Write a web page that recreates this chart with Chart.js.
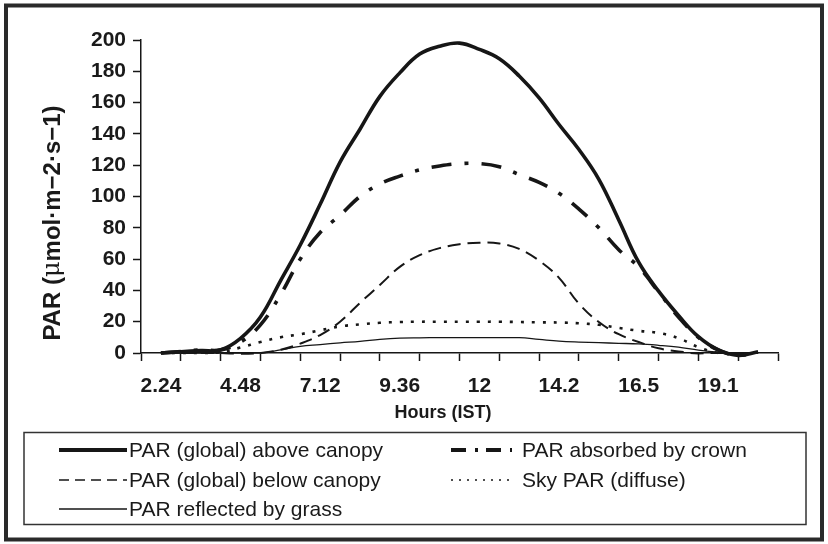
<!DOCTYPE html>
<html><head><meta charset="utf-8">
<script src="https://cdn.jsdelivr.net/npm/chart.js@4"></script>
<style>html,body{margin:0;padding:0;background:#fff}</style>
</head><body>
<canvas id="c" width="828" height="544"></canvas>
<script>
// Category labels (one slot per half-interval; only every 4th slot is labelled)
const hourLabels = ['', '2.24', '', '', '', '4.48', '', '', '', '7.12', '', '', '', '9.36', '', '', '',
  '12', '', '', '', '14.2', '', '', '', '16.5', '', '', '', '19.1', '', '', ''];
const yTicks = [0, 20, 40, 60, 80, 100, 120, 140, 160, 180, 200];

// Series values (31 readings, slots 1..31)
const aboveCanopy = [0, 0.8, 1.5, 2, 9.4, 23, 46, 69, 95, 122, 143, 164, 179, 191, 196, 198, 194, 188, 177, 163, 146, 130, 111, 85, 58, 39.5, 24, 10.4, 2, -1.5, 0.8];
const absorbedCrown = [0, 1, 2, 2, 7, 18, 37, 60, 77, 88, 100, 108, 113, 117, 119.5, 121, 121, 119, 114, 109, 102, 92, 80, 66, 55, 39, 23, 10, 2, -1.5, 0.8];
const belowCanopy = [0, 0, 0, 0, -0.5, 0, 2, 6, 11.5, 20, 32, 43.5, 55, 62.5, 67, 69.5, 70.5, 70, 66.5, 59, 48, 31.5, 19.8, 12, 7, 3, 1, -0.3, 0, -0.3, 0];
const skyDiffuse = [0, 0, 0, 0.5, 3.5, 7, 10, 12, 14.5, 17, 18.3, 19.3, 19.8, 20, 20, 20, 20, 20, 19.8, 19.6, 19.5, 19, 18, 16, 14.2, 12.8, 9.5, 3.7, 0, -0.5, 0];
const reflectedGrass = [0, 0, 0, 0, 0, 0, 2, 4.3, 5.4, 6.5, 7.4, 8.7, 9.5, 9.7, 9.8, 9.8, 9.8, 9.8, 9.8, 8.7, 7.6, 7, 6.6, 6.2, 5.8, 4.9, 3.7, 1.8, 0.5, 0, 0];

const seriesNames = ['PAR (global) above canopy', 'PAR absorbed by crown', 'PAR (global) below canopy', 'Sky PAR (diffuse)', 'PAR reflected by grass'];

const pad = a => [null, ...a, null];
const INK = '#161616';

const datasets = [
  {label: seriesNames[0], data: pad(aboveCanopy), borderWidth: 3.6, borderDash: []},
  {label: seriesNames[1], data: pad(absorbedCrown), borderWidth: 3.6, borderDash: [20, 13, 4, 13]},
  {label: seriesNames[2], data: pad(belowCanopy), borderWidth: 2, borderDash: [13, 7]},
  {label: seriesNames[3], data: pad(skyDiffuse), borderWidth: 2.6, borderDash: [3, 8]},
  {label: seriesNames[4], data: pad(reflectedGrass), borderWidth: 1.3, borderDash: []}
].map(d => Object.assign({
  borderColor: INK, backgroundColor: INK, fill: false, pointRadius: 0,
  tension: 0.4, clip: 10, borderCapStyle: 'butt', borderJoinStyle: 'round'
}, d));

const legendStyles = [
  {w: 4.2, dash: []},
  {w: 4.2, dash: [15, 9, 3, 8, 15, 9, 3, 100]},
  {w: 1.5, dash: [10, 6]},
  {w: 1.5, dash: [2, 6]},
  {w: 1.3, dash: []}
];

const decor = {
  id: 'decor',
  beforeDraw(chart) {
    const c = chart.ctx;
    c.save();
    c.fillStyle = '#fff';
    c.fillRect(0, 0, chart.width, chart.height);
    c.restore();
  },
  afterDraw(chart) {
    const c = chart.ctx;
    c.save();
    // outer frame
    c.strokeStyle = '#2a2a2a';
    c.lineWidth = 4;
    c.strokeRect(6, 5.5, 816, 534);

    // y-axis title
    c.fillStyle = '#1a1a1a';
    c.textBaseline = 'middle';
    const parts = [
      ['bold 24px "Liberation Sans", Arial, sans-serif', 'PAR ('],
      ['24px "DejaVu Serif", serif', 'μ'],
      ['bold 24px "Liberation Sans", Arial, sans-serif', 'mol·m−2·s−1)']
    ];
    let W = 0;
    parts.forEach(p => { c.font = p[0]; W += c.measureText(p[1]).width; });
    c.save();
    c.translate(53, 223);
    c.rotate(-Math.PI / 2);
    let x = -W / 2;
    c.textAlign = 'left';
    parts.forEach(p => { c.font = p[0]; c.fillText(p[1], x, 0); x += c.measureText(p[1]).width; });
    c.restore();

    // x-axis title
    c.font = 'bold 18px "Liberation Sans", Arial, sans-serif';
    c.textAlign = 'center';
    c.fillText('Hours (IST)', 443, 413);

    // legend box
    c.strokeStyle = '#333';
    c.lineWidth = 1.5;
    c.strokeRect(24, 432.5, 782, 92);
    const pos = [
      {x1: 59, x2: 127, tx: 129, y: 450},
      {x1: 451, x2: 512, tx: 522, y: 450},
      {x1: 59, x2: 127, tx: 129, y: 480},
      {x1: 451, x2: 512, tx: 522, y: 480},
      {x1: 59, x2: 127, tx: 129, y: 509}
    ];
    c.font = '21px "Liberation Sans", Arial, sans-serif';
    c.textAlign = 'left';
    chart.data.datasets.forEach((ds, i) => {
      const p = pos[i], st = legendStyles[i];
      c.strokeStyle = INK;
      c.lineWidth = st.w;
      c.setLineDash(st.dash);
      c.lineCap = 'butt';
      c.beginPath();
      c.moveTo(p.x1, p.y);
      c.lineTo(p.x2, p.y);
      c.stroke();
      c.setLineDash([]);
      c.fillStyle = '#1a1a1a';
      c.fillText(ds.label, p.tx, p.y + 1);
    });
    c.restore();
  }
};

new Chart(document.getElementById('c'), {
  type: 'line',
  data: {labels: hourLabels, datasets},
  options: {
    responsive: false,
    animation: false,
    devicePixelRatio: 1,
    layout: {padding: {left: 0, right: 50, top: 40, bottom: 131}},
    plugins: {legend: {display: false}, tooltip: {enabled: false}, title: {display: false}},
    scales: {
      x: {
        type: 'category',
        offset: false,
        afterFit: s => { s.height = 60; },
        border: {display: true, color: INK, width: 1.5},
        grid: {
          display: true, drawOnChartArea: false, drawTicks: true, tickLength: 8, tickWidth: 1.5,
          tickColor: ctx => (ctx.index % 2 === 0 ? INK : 'rgba(0,0,0,0)')
        },
        ticks: {
          autoSkip: false, maxRotation: 0, minRotation: 0, padding: 13,
          color: '#1a1a1a', font: {family: '"Liberation Sans", Arial, sans-serif', size: 21, weight: 'bold'}
        }
      },
      y: {
        min: 0, max: 200,
        afterFit: s => { s.width = 141; },
        afterBuildTicks: s => { s.ticks = yTicks.map(v => ({value: v})); },
        border: {display: true, color: INK, width: 1.5},
        grid: {display: true, drawOnChartArea: false, drawTicks: true, tickLength: 8, tickWidth: 1.5, tickColor: INK},
        ticks: {
          padding: 7, color: '#1a1a1a',
          font: {family: '"Liberation Sans", Arial, sans-serif', size: 21, weight: 'bold'}
        }
      }
    }
  },
  plugins: [decor]
});
</script>
</body></html>
